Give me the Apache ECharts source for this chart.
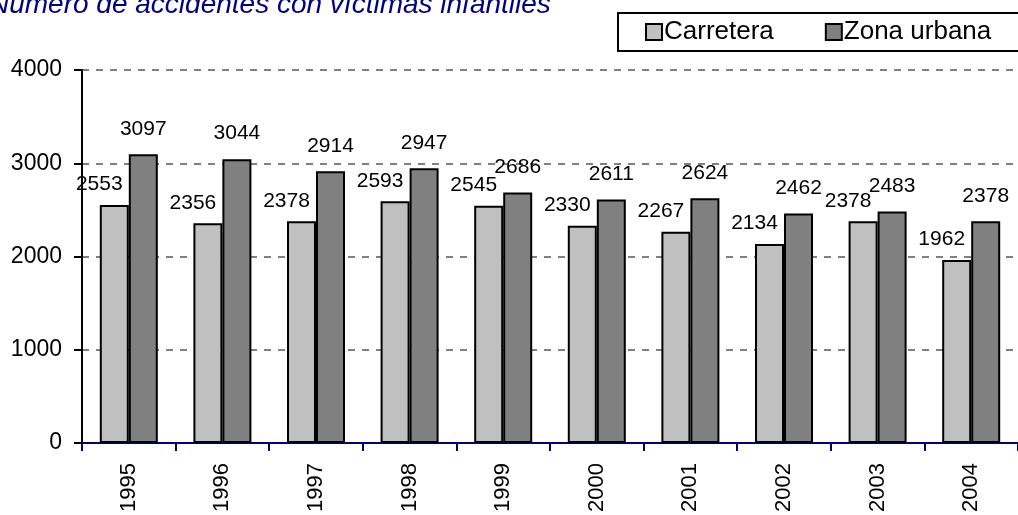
<!DOCTYPE html>
<html>
<head>
<meta charset="utf-8">
<script src="https://cdn.jsdelivr.net/npm/echarts@6/dist/echarts.min.js"></script>
<style>html,body{margin:0;padding:0;background:#fff}#c{width:1018px;height:515px}</style>
</head>
<body>
<div id="c"></div>
<script>
var titleText = 'Número de accidentes con víctimas infantiles';
var years = ['1995','1996','1997','1998','1999','2000','2001','2002','2003','2004'];
var carretera = [2553, 2356, 2378, 2593, 2545, 2330, 2267, 2134, 2378, 1962];
var zonaUrbana = [3097, 3044, 2914, 2947, 2686, 2611, 2624, 2462, 2483, 2378];
var seriesNames = ['Carretera', 'Zona urbana'];
var yTicks = [0, 1000, 2000, 3000, 4000];

var FONT = 'Liberation Sans, Arial, sans-serif';
var chart = echarts.init(document.getElementById('c'), null, {renderer: 'canvas'});
chart.setOption({
  animation: false,
  backgroundColor: '#ffffff',
  title: {
    text: titleText,
    left: -11, top: -9, padding: 0,
    textStyle: {color: '#000080', fontStyle: 'italic', fontWeight: 'normal', fontSize: 28, fontFamily: FONT}
  },
  legend: {
    data: seriesNames,
    orient: 'horizontal',
    left: 618, top: 13, width: 800,
    padding: [6, 40, 6, 27],
    itemWidth: 16, itemHeight: 16, itemGap: 51,
    borderColor: '#000', borderWidth: 2,
    icon: 'rect',
    itemStyle: {borderColor: '#000', borderWidth: 2},
    textStyle: {color: '#000', fontSize: 26, fontFamily: FONT, padding: [0, 0, 0, -3]}
  },
  grid: {left: 82, right: -14, top: 70, bottom: 70, containLabel: false},
  xAxis: {
    type: 'category',
    data: years,
    axisLine: {lineStyle: {color: '#000080', width: 2}},
    axisTick: {show: true, length: 8, lineStyle: {color: '#000080', width: 2}},
    axisLabel: {rotate: 90, margin: 20, color: '#000', fontSize: 22, fontFamily: FONT}
  },
  yAxis: {
    type: 'value',
    min: yTicks[0], max: yTicks[yTicks.length - 1], interval: 1000,
    axisLine: {show: true, lineStyle: {color: '#000', width: 2}},
    axisTick: {show: true, length: 8, lineStyle: {color: '#000', width: 2}},
    axisLabel: {margin: 20, color: '#000', fontSize: 23, fontFamily: FONT, formatter: function (v) { return String(v); }},
    splitLine: {show: true, lineStyle: {color: '#808080', width: 2, type: [7, 7]}}
  },
  series: [
    {
      name: seriesNames[0], type: 'bar', data: carretera,
      barWidth: 29, barGap: '0%',
      itemStyle: {color: '#C0C0C0', borderColor: '#000', borderWidth: 2},
      label: {show: true, position: 'top', distance: 10, offset: [-15, 0], color: '#000', fontSize: 21, fontFamily: FONT}
    },
    {
      name: seriesNames[1], type: 'bar', data: zonaUrbana,
      barWidth: 29, barGap: '0%',
      itemStyle: {color: '#808080', borderColor: '#000', borderWidth: 2},
      label: {show: true, position: 'top', distance: 15, color: '#000', fontSize: 21, fontFamily: FONT}
    }
  ]
});
</script>
</body>
</html>
